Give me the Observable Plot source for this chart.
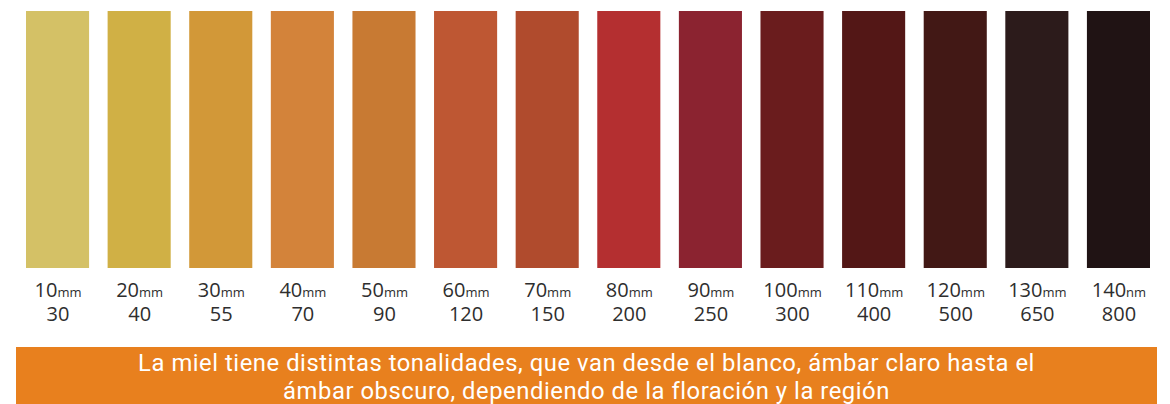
<!DOCTYPE html>
<html>
<head>
<meta charset="utf-8">
<script src="https://cdn.jsdelivr.net/npm/d3@7"></script>
<script src="https://cdn.jsdelivr.net/npm/@observablehq/plot@0.6"></script>
<style>
  html, body { margin: 0; padding: 0; background: #fff; width: 1170px; height: 404px; overflow: hidden; }
  #chart svg { display: block; }
  #caption {
    margin-left: 16px; width: 1141px; height: 57px; margin-top: 2px;
    background: #E8801E; color: #fff;
    font-family: Roboto, sans-serif; font-size: 23.8px;
    text-align: center; box-sizing: border-box; padding-top: 2px; white-space: nowrap; overflow: hidden;
  }
  #caption .line { height: 28px; line-height: 28px; }
  #caption .line span { display: inline; }
</style>
</head>
<body>
<div id="chart"></div>
<div id="caption"><div class="line"><span id="l1">La miel tiene distintas tonalidades, que van desde el blanco, ámbar claro hasta el</span></div><div class="line"><span id="l2">ámbar obscuro, dependiendo de la floración y la región</span></div></div>
<script>
const wavelengths = [10, 20, 30, 40, 50, 60, 70, 80, 90, 100, 110, 120, 130, 140];
const units = ["mm","mm","mm","mm","mm","mm","mm","mm","mm","mm","mm","mm","mm","nm"];
const values = [30, 40, 55, 70, 90, 120, 150, 200, 250, 300, 400, 500, 650, 800];
const colors = ["#D4C166","#D0B045","#D29838","#D3833A","#C87A33","#BE5733","#B04B2D",
                "#B42F30","#8B2330","#6A1C1D","#531716","#421815","#2C1B1B","#201314"];

const data = wavelengths.map((w, i) => ({
  key: String(w), unit: units[i], value: String(values[i]), color: colors[i]
}));

const plot = Plot.plot({
  width: 1170,
  height: 345,
  marginLeft: 26,
  marginRight: 20,
  marginTop: 11,
  marginBottom: 77,
  style: { fontFamily: "Open Sans, sans-serif", background: "transparent" },
  x: { domain: data.map(d => d.key), paddingInner: 0.227, paddingOuter: 0, round: false, axis: null },
  y: { domain: [0, 1], axis: null },
  color: { type: "identity" },
  marks: [
    Plot.barY(data, { x: "key", y: 1, fill: "color" }),
    Plot.text(data, { x: "key", text: "key", frameAnchor: "bottom", dy: 28, fontSize: 20, fill: "#2e2e2e" }),
    Plot.text(data, { x: "key", text: "value", frameAnchor: "bottom", dy: 52, fontSize: 20, fill: "#2e2e2e" })
  ]
});
document.getElementById("chart").appendChild(plot);

// add the small unit suffix to each wavelength label (first text mark)
const labelGroup = d3.select(plot).selectAll('g[aria-label="text"]').nodes()[0];
d3.select(labelGroup).selectAll("text").each(function(_, i) {
  const t = d3.select(this);
  const base = t.text();
  t.text(null);
  t.append("tspan").text(base);
  t.append("tspan").attr("font-size", 13).text(units[i]);
});

// widen the caption letter spacing so the first line spans ~897px as in the reference
const l1 = document.getElementById("l1");
const w = l1.getBoundingClientRect().width;
const ls = Math.max(0, (897 - w) / l1.textContent.length);
document.getElementById("caption").style.letterSpacing = ls.toFixed(2) + "px";
</script>
</body>
</html>
